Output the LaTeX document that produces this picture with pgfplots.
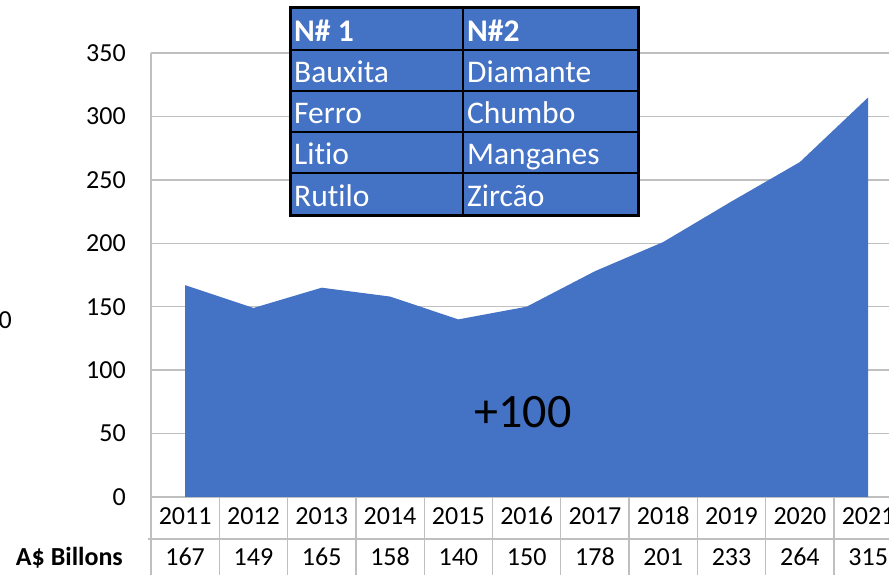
\documentclass[border=0pt]{standalone}
\usepackage{pgfplots}
\pgfplotsset{compat=1.18}
\usepackage{pgfplotstable}
\usepackage{fontspec}
\setmainfont[Ligatures=NoCommon]{Carlito}
\definecolor{areablue}{HTML}{4472C4}
\definecolor{gridgray}{HTML}{BFBFBF}
\pgfplotstableread{
x year v
0 2011 167
1 2012 149
2 2013 165
3 2014 158
4 2015 140
5 2016 150
6 2017 178
7 2018 201
8 2019 233
9 2020 264
10 2021 315
}\data
\begin{document}
\begin{tikzpicture}
\useasboundingbox (0pt,0pt) rectangle (889pt,575pt);
\clip (0pt,0pt) rectangle (889pt,575pt);
\begin{axis}[
  at={(151pt,78pt)}, anchor=south west, scale only axis,
  width=751.3pt, height=444pt,
  xmin=-0.5, xmax=10.5, ymin=0, ymax=350,
  axis line style={draw=none},
  ytick={0,50,...,350},
  ymajorgrids, major grid style={draw=gridgray, line width=1.3pt},
  major tick length=0pt,
  xtick={0,...,10},
  xticklabels={2011,2012,2013,2014,2015,2016,2017,2018,2019,2020,2021},
  xticklabel style={anchor=base, yshift=-28pt},
  yticklabel style={anchor=east, xshift=-21.7pt},
  tick label style={font=\fontsize{26}{31}\selectfont},
  /pgf/number format/assume math mode=true,
  /pgf/number format/1000 sep={},
  clip=false,
]
\addplot[fill=areablue, draw=none] table[x=x,y=v]{\data} \closedcycle;
\addplot[draw=none, mark=none, nodes near coords, point meta=explicit,
  every node near coord/.style={anchor=base, yshift=-69pt, font=\fontsize{26}{31}\selectfont, text=black}]
  table[x=x, y expr=0, meta=v]{\data};
\end{axis}
% data table grid
\draw[gridgray, line width=1.3pt] (148pt,36pt) -- (889pt,36pt);
\draw[gridgray, line width=1.3pt] (151pt,0pt) -- (151pt,522pt);
\foreach \k in {1,...,11} {
  \pgfmathsetmacro{\xx}{151+\k*68.3}
  \draw[gridgray, line width=1.3pt] (\xx pt,0pt) -- (\xx pt,78pt);
}
\node[anchor=base east, inner sep=0pt, font=\fontsize{26}{31}\selectfont\bfseries] at (123pt,9pt) {A\$ Billons};
\node[anchor=base east, inner sep=0pt, font=\fontsize{26}{31}\selectfont] at (12pt,246.5pt) {0};
\node[anchor=center, inner sep=0pt, font=\fontsize{48}{56}\selectfont] at (523pt,163pt) {+100};
% overlay table
\fill[areablue] (290pt,359pt) rectangle (638pt,567pt);
\foreach \y in {525,484,443,402} {
  \draw[black, line width=2pt] (290pt,\y pt) -- (638pt,\y pt);
}
\draw[black, line width=2pt] (463pt,359pt) -- (463pt,567pt);
\draw[black, line width=3pt] (290pt,359pt) rectangle (638pt,567pt);
\begin{scope}[every node/.style={anchor=base west, inner sep=0pt, text=white, font=\fontsize{31.5}{37}\selectfont}]
\node[font=\fontsize{31.5}{37}\selectfont\bfseries] at (294pt,533pt) {N\# 1};
\node[font=\fontsize{31.5}{37}\selectfont\bfseries] at (467pt,533pt) {N\#2};
\node at (294pt,492pt) {Bauxita};
\node at (467pt,492pt) {Diamante};
\node at (294pt,451pt) {Ferro};
\node at (467pt,451pt) {Chumbo};
\node at (294pt,410pt) {Litio};
\node at (467pt,410pt) {Manganes};
\node at (294pt,368pt) {Rutilo};
\node at (467pt,368pt) {Zircão};
\end{scope}
\end{tikzpicture}
\end{document}
